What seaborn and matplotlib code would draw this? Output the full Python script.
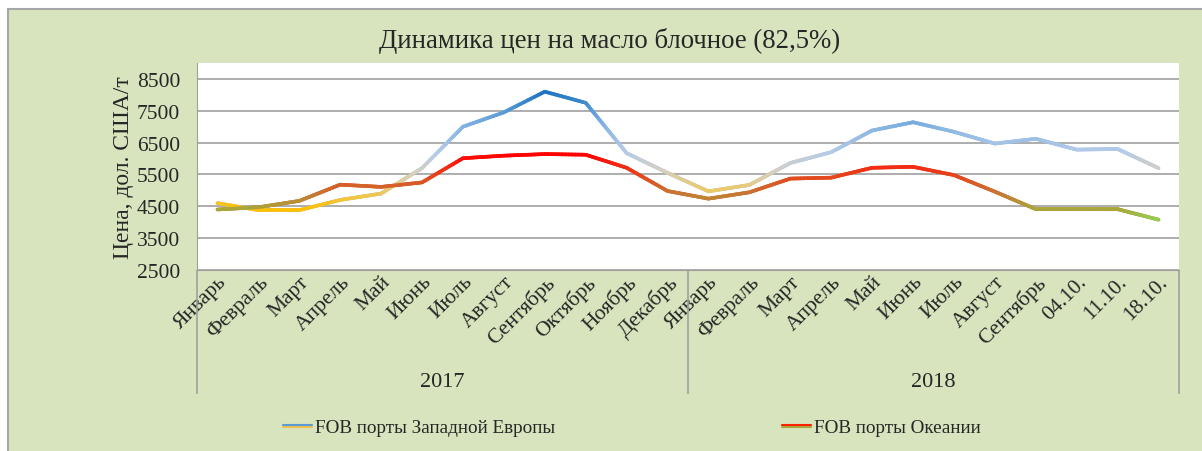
import numpy as np
import seaborn as sns
import matplotlib.pyplot as plt
import matplotlib.patheffects as pe
from matplotlib.lines import Line2D
from matplotlib.patches import Rectangle
from matplotlib.collections import LineCollection
from matplotlib.colors import LinearSegmentedColormap, Normalize

# data
months = ['Январь', 'Февраль', 'Март', 'Апрель', 'Май', 'Июнь', 'Июль', 'Август',
          'Сентябрь', 'Октябрь', 'Ноябрь', 'Декабрь',
          'Январь', 'Февраль', 'Март', 'Апрель', 'Май', 'Июнь', 'Июль', 'Август',
          'Сентябрь', '04.10.', '11.10.', '18.10.']
years = ['2017', '2018']
west_europe = [4600, 4380, 4380, 4700, 4900, 5700, 7000, 7450, 8100, 7750, 6170, 5550,
               4970, 5170, 5860, 6200, 6880, 7140, 6840, 6470, 6620, 6280, 6300, 5700]
oceania = [4400, 4470, 4670, 5180, 5110, 5250, 6010, 6090, 6140, 6120, 5710, 4980,
           4740, 4940, 5370, 5400, 5710, 5740, 5480, 4960, 4410, 4410, 4410, 4080]
series_names = ['FOB порты Западной Европы', 'FOB порты Океании']

sns.set_style("white")
plt.rcParams['font.family'] = ['Liberation Serif', 'DejaVu Serif']

W, H = 1202, 452
fig = plt.figure(figsize=(W / 100, H / 100), dpi=100, facecolor='white')
fig.patches.append(Rectangle((8 / W, -0.1), 1.2, 1 - 10 / H + 0.1, transform=fig.transFigure,
                             facecolor='#D7E4BD', edgecolor='#A6A6A6', lw=1.5, zorder=-5))

ax = fig.add_axes([197 / W, 1 - 271 / H, (1179 - 197) / W, (271 - 64) / H])
ax.set_facecolor('white')

x = np.arange(len(months))

# base lines through seaborn, gradient drawn on top
sns.lineplot(x=x, y=west_europe, ax=ax, color='#8DB8E3', lw=2.5, legend=False)
sns.lineplot(x=x, y=oceania, ax=ax, color='#E24A1E', lw=2.5, legend=False)


def make_cmap(stops, vmin, vmax):
    return LinearSegmentedColormap.from_list(
        'g', [((v - vmin) / (vmax - vmin), c) for v, c in stops])


def gradient_line(ax, xs, ys, stops):
    vmin, vmax = stops[0][0], stops[-1][0]
    cmap = make_cmap(stops, vmin, vmax)
    segs, vals = [], []
    for i in range(len(xs) - 1):
        t = np.linspace(0, 1, 13)
        px = xs[i] + (xs[i + 1] - xs[i]) * t
        py = ys[i] + (ys[i + 1] - ys[i]) * t
        for j in range(len(t) - 1):
            segs.append([(px[j], py[j]), (px[j + 1], py[j + 1])])
            vals.append((py[j] + py[j + 1]) / 2)
    lc = LineCollection(segs, cmap=cmap, norm=Normalize(vmin, vmax), linewidths=2.6,
                        capstyle='round', joinstyle='round', zorder=3)
    lc.set_array(np.array(vals))
    ax.add_collection(lc)


west_stops = [(4380, '#FFC000'), (4950, '#EEC85E'), (5600, '#D5D0C0'), (6200, '#B6CBE8'),
              (6900, '#8DB8E3'), (7450, '#5C9DD8'), (8100, '#1C74BF')]
oce_stops = [(4080, '#92D050'), (4410, '#A8A83A'), (4740, '#BE8634'), (4980, '#CB7030'),
             (5400, '#E24A1E'), (5750, '#F42A14'), (6140, '#FF0000')]
gradient_line(ax, x, west_europe, west_stops)
gradient_line(ax, x, oceania, oce_stops)

ax.set_xlim(-0.5, len(months) - 0.5)
ax.set_ylim(2500, 9000)
ax.set_yticks(range(2500, 9000, 1000))
ax.set_xticks(x)
ax.set_xticklabels(months, rotation=45, ha='right', va='top', rotation_mode='anchor', fontsize=15.5)
ax.tick_params(axis='y', labelsize=15.5, length=0, pad=12)
ax.tick_params(axis='x', length=0, pad=1.5)
ax.grid(axis='y', color='#A0A0A0', lw=1.2)
ax.grid(axis='x', visible=False)
for s in ['top', 'right']:
    ax.spines[s].set_visible(False)
ax.spines['bottom'].set_color('#A0A0A0')
ax.spines['left'].set_color('#A0A0A0')
ax.set_ylabel('Цена, дол. США/т', fontsize=17)
ax.yaxis.set_label_coords(-0.064, 0.5)

# year separators and labels
ax.vlines([0, 0.5, 1], -0.6, 0, transform=ax.transAxes, colors='#A0A0A0', lw=1.2, clip_on=False)
for i, yr in enumerate(years):
    ax.text(0.25 + 0.5 * i, -(383 - 271) / 207, yr, transform=ax.transAxes,
            ha='center', va='center', fontsize=16)

fig.text(610 / W, 1 - 41 / H, 'Динамика цен на масло блочное (82,5%)',
         ha='center', va='center', fontsize=19.3)

# legend
h1 = Line2D([], [], color='#5B9BD5', lw=1.5,
            path_effects=[pe.SimpleLineShadow(offset=(0, -1.2), shadow_color='#F0C050', alpha=1),
                          pe.Normal()])
h2 = Line2D([], [], color='#FF2000', lw=1.5,
            path_effects=[pe.SimpleLineShadow(offset=(0, -1.2), shadow_color='#A8A83A', alpha=1),
                          pe.Normal()])
for h, name, lx in [(h1, series_names[0], 283), (h2, series_names[1], 782)]:
    fig.legend([h], [name], loc='center left', bbox_to_anchor=(lx / W, 1 - 428 / H),
               frameon=False, fontsize=13.8, borderpad=0, borderaxespad=0,
               handlelength=1.5, handletextpad=0.15)

plt.savefig('out.png', dpi=100)
